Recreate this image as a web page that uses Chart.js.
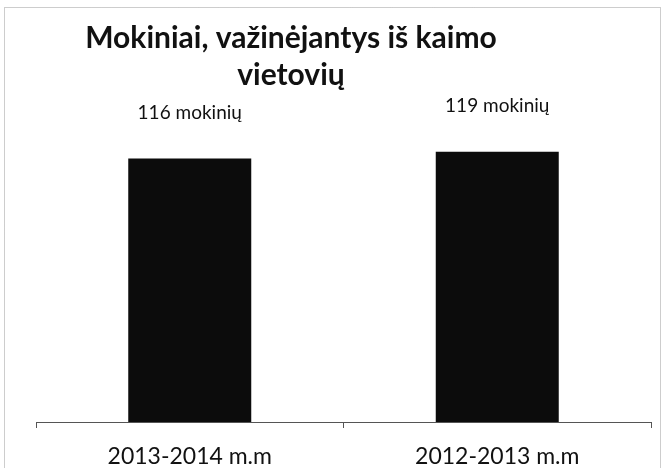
<!DOCTYPE html>
<html>
<head>
<meta charset="utf-8">
<script src="https://cdn.jsdelivr.net/npm/chart.js@4"></script>
<style>
  html, body { margin: 0; padding: 0; background: #fff; overflow: hidden; }
</style>
</head>
<body>
<canvas id="grafico" width="661" height="468"></canvas>
<script>
// Datos del gráfico
const categorias = ["2013-2014 m.m", "2012-2013 m.m"];
const mokiniai = [116, 119];
const etiquetas = ["116 mokinių", "119 mokinių"];
const tituloLineas = ["Mokiniai, važinėjantys iš kaimo", "vietovių"];

const fuente = "Lato, 'Open Sans', sans-serif";

// marco + título + etiquetas de valores
const extras = {
  id: "extras",
  beforeDraw(chart) {
    const ctx = chart.ctx;
    ctx.save();
    ctx.fillStyle = "#fff";
    ctx.fillRect(0, 0, chart.width, chart.height);
    ctx.strokeStyle = "#9a9a9a";
    ctx.lineWidth = 1;
    ctx.setLineDash([1, 1]);
    ctx.strokeRect(4.5, 7.5, chart.width - 5, chart.height);
    ctx.restore();
  },
  afterDraw(chart) {
    const ctx = chart.ctx;
    ctx.save();
    ctx.fillStyle = "#111";
    ctx.textAlign = "center";
    ctx.textBaseline = "middle";
    ctx.font = "bold 30px " + fuente;
    ctx.fillText(tituloLineas[0], 291, 38);
    ctx.fillText(tituloLineas[1], 291, 75);

    ctx.font = "19px " + fuente;
    const meta = chart.getDatasetMeta(0);
    meta.data.forEach(function (barra, i) {
      ctx.fillText(etiquetas[i], barra.x, barra.y - 46);
    });
    ctx.restore();
  }
};

new Chart("grafico", {
  type: "bar",
  data: {
    labels: categorias,
    datasets: [
      {
        data: mokiniai,
        backgroundColor: "#0c0c0c",
        barPercentage: 0.4,
        categoryPercentage: 1.0
      }
    ]
  },
  options: {
    responsive: false,
    animation: false,
    layout: { padding: { top: 104, left: 36, right: 10, bottom: 0 } },
    plugins: {
      legend: { display: false },
      title: { display: false },
      tooltip: { enabled: false }
    },
    scales: {
      x: {
        afterFit: function (escala) {
          escala.height = 46;
        },
        grid: {
          offset: true,
          drawOnChartArea: false,
          drawTicks: true,
          tickLength: 6,
          color: "#555"
        },
        border: { color: "#555", width: 1 },
        ticks: {
          color: "#111",
          padding: 15,
          font: { family: fuente, size: 23 }
        }
      },
      y: {
        display: false,
        min: 0,
        max: 140
      }
    }
  },
  plugins: [extras]
});
</script>
</body>
</html>
